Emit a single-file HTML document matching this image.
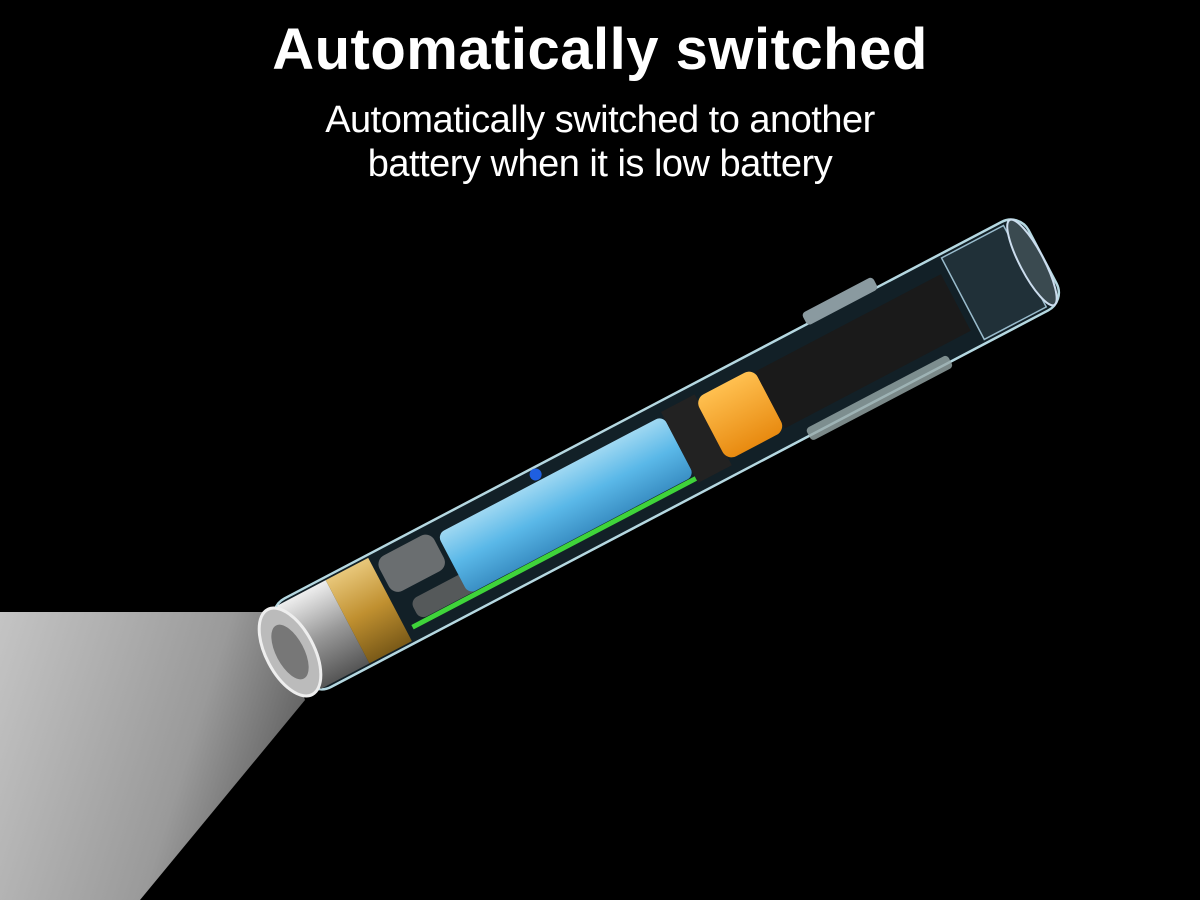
<!DOCTYPE html>
<html><head><style>
html,body{margin:0;padding:0;background:#000;width:1200px;height:900px;overflow:hidden}
.t{position:absolute;left:0;width:1200px;text-align:center;color:#fff;font-family:"Liberation Sans",sans-serif}
</style></head><body>
<svg width="1200" height="900" style="position:absolute;left:0;top:0">
<defs>
<linearGradient id="beam" x1="0" y1="0" x2="1" y2="0.3">
<stop offset="0" stop-color="#c4c4c4"/><stop offset="0.7" stop-color="#9a9a9a"/><stop offset="1" stop-color="#666"/></linearGradient>
<linearGradient id="blue" x1="0" y1="0" x2="0" y2="1"><stop offset="0" stop-color="#9fd8f2"/><stop offset="0.5" stop-color="#5ab8e8"/><stop offset="1" stop-color="#3a8fc4"/></linearGradient>
<linearGradient id="gold" x1="0" y1="0" x2="0" y2="1"><stop offset="0" stop-color="#e8c77a"/><stop offset="0.5" stop-color="#c09030"/><stop offset="1" stop-color="#7a5a18"/></linearGradient>
<linearGradient id="org" x1="0" y1="0" x2="0" y2="1"><stop offset="0" stop-color="#ffc050"/><stop offset="1" stop-color="#e88a10"/></linearGradient>
<linearGradient id="sil" x1="0" y1="0" x2="0" y2="1"><stop offset="0" stop-color="#eee"/><stop offset="0.5" stop-color="#999"/><stop offset="1" stop-color="#555"/></linearGradient>
</defs>
<polygon points="0,612 275,612 305,700 140,900 0,900" fill="url(#beam)"/>
<g transform="translate(290,652) rotate(-27.7)">
<rect x="0" y="-50" width="850" height="100" rx="20" fill="#13222a" stroke="#bfe4ee" stroke-width="2.5" opacity="0.95"/>
<rect x="10" y="-47" width="55" height="94" fill="url(#sil)"/>
<rect x="65" y="-47" width="48" height="94" fill="url(#gold)"/>
<rect x="118" y="-42" width="62" height="40" rx="10" fill="#6a6e70"/>
<rect x="130" y="10" width="70" height="22" rx="8" fill="#55595a"/>
<rect x="185" y="-36" width="255" height="68" rx="8" fill="url(#blue)"/>
<path d="M120 35 L460 35" stroke="#3fd43a" stroke-width="5"/>
<circle cx="300" cy="-43" r="6" fill="#1f5fe0"/>
<rect x="440" y="-40" width="38" height="80" fill="#222"/>
<rect x="476" y="-36" width="66" height="70" rx="10" fill="url(#org)"/>
<rect x="542" y="-32" width="210" height="64" fill="#1a1a1a"/>
<rect x="610" y="-62" width="80" height="14" rx="4" fill="#8a9aa0"/>
<rect x="560" y="42" width="160" height="14" rx="4" fill="#9aa" opacity="0.8"/>
<rect x="760" y="-46" width="70" height="92" fill="#203038" stroke="#9bc" stroke-width="1.5"/>
<ellipse cx="838" cy="0" rx="12" ry="48" fill="#3a4a50" stroke="#cde" stroke-width="2"/>
</g>
<ellipse cx="290" cy="652" rx="24" ry="48" transform="rotate(-27.7 290 652)" fill="#bbb" stroke="#eee" stroke-width="3"/>
<ellipse cx="290" cy="652" rx="14" ry="30" transform="rotate(-27.7 290 652)" fill="#777"/>
</svg>
<div class="t" style="top:16px;font-size:58px;font-weight:bold;letter-spacing:0.5px">Automatically switched</div>
<div class="t" style="top:98px;font-size:38px;line-height:44px;letter-spacing:-0.5px">Automatically switched to another<br>battery when it is low battery</div>
</body></html>
